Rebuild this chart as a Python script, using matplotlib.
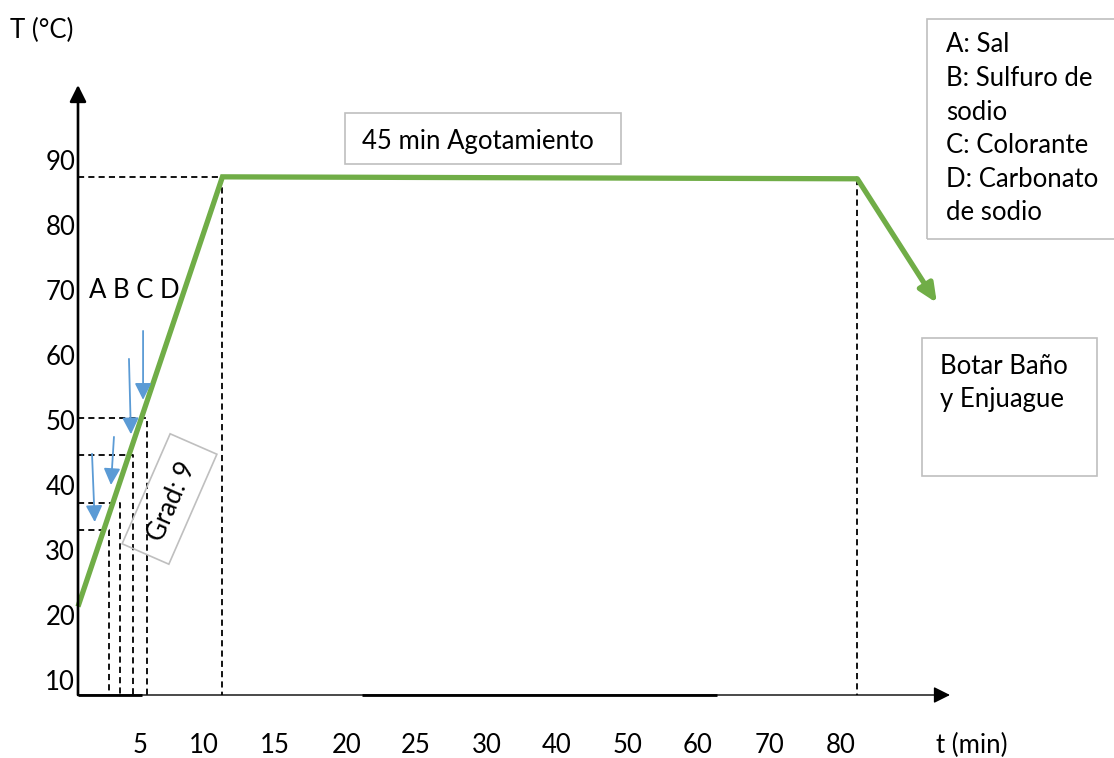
import numpy as np
import matplotlib
matplotlib.use("Agg")
import matplotlib.pyplot as plt
from matplotlib.patches import Rectangle
from matplotlib.transforms import IdentityTransform

# ---------------- data ----------------
# time ticks (min) shown under the time axis
time_ticks = [5, 10, 15, 20, 25, 30, 40, 50, 60, 70, 80]
time_tick_labels = ["5", "10", "15", "20", "25", "30", "40", "50", "60", "70", "80"]
# temperature ticks (°C)
temp_ticks = [10, 20, 30, 40, 50, 60, 70, 80, 90]
temp_tick_labels = ["10", "20", "30", "40", "50", "60", "70", "80", "90"]

# dyeing profile: heating ramp, 45 min exhaustion hold, then drain
profile_time = [0, 11.3, 82.3]
profile_temp = [21.3, 87.4, 87.1]
drain_time = 93.5
drain_temp = 68.0

# addition points A, B, C, D (time, temperature)
add_names = ["A", "B", "C", "D"]
add_time = [2.5, 3.4, 4.4, 5.55]
add_temp = [33.1, 37.2, 44.6, 50.3]

# dosing arrows (start -> end)
dose_time_start = [1.13, 2.90, 4.11, 5.24]
dose_temp_start = [44.8, 47.4, 59.4, 63.7]
dose_time_end = [1.35, 2.66, 4.27, 5.24]
dose_temp_end = [34.3, 40.0, 47.8, 53.1]

legend_lines = ["A: Sal", "B: Sulfuro de", "sodio", "C: Colorante",
                "D: Carbonato", "de sodio"]
stage_label = "45 min Agotamiento"
drain_lines = ["Botar Baño", "y Enjuague"]
gradient_label = "Grad: 9"

# ---------------- layout ----------------
W, H = 1114, 758
GREEN = "#70AD47"
BLUE = "#5B9BD5"
BOX = "#BFBFBF"

plt.rcParams["font.family"] = ["Lato", "DejaVu Sans"]
plt.rcParams["font.size"] = 18.5

# the time axis is drawn with uneven spacing between its labelled stops
stop_min = np.array([0, 5, 10, 15, 20, 25, 30, 40, 50, 60, 70, 80], float)
stop_pos = np.array([0, 62, 126, 197, 269, 338, 409, 479, 550, 620, 692, 763], float)
slope_lo = (stop_pos[1] - stop_pos[0]) / (stop_min[1] - stop_min[0])
slope_hi = (stop_pos[-1] - stop_pos[-2]) / (stop_min[-1] - stop_min[-2])


def fwd(m):
    m = np.asarray(m, float)
    out = np.interp(m, stop_min, stop_pos)
    out = np.where(m < stop_min[0], stop_pos[0] + (m - stop_min[0]) * slope_lo, out)
    out = np.where(m > stop_min[-1], stop_pos[-1] + (m - stop_min[-1]) * slope_hi, out)
    return out


def inv(p):
    p = np.asarray(p, float)
    out = np.interp(p, stop_pos, stop_min)
    out = np.where(p < stop_pos[0], stop_min[0] + (p - stop_pos[0]) / slope_lo, out)
    out = np.where(p > stop_pos[-1], stop_min[-1] + (p - stop_pos[-1]) / slope_hi, out)
    return out


fig = plt.figure(figsize=(W / 100, H / 100), dpi=100)
ax = fig.add_axes([78 / W, 63 / H, 1036 / W, 695 / H])
ax.set_xscale("function", functions=(fwd, inv))
ax.set_xlim(0, float(inv(1036)))
y_base = 7.7
ax.set_ylim(y_base, 114.6)
for s in ax.spines.values():
    s.set_visible(False)

ax.set_xticks(time_ticks)
ax.set_xticklabels(time_tick_labels)
ax.set_yticks(temp_ticks)
ax.set_yticklabels(temp_tick_labels)
ax.tick_params(axis="x", length=0, pad=27.5)
ax.tick_params(axis="y", length=0, pad=2)
ax.minorticks_off()

ax.set_xlabel("t (min)")
ax.xaxis.set_label_coords((972 - 78) / 1036, -38 / 695)
ax.set_ylabel("T (°C)", rotation=0, ha="center", va="center")
ax.yaxis.set_label_coords((42 - 78) / 1036, (695 - 30) / 695)

# axis arrows
ax.annotate("", xy=(0, (695 - 85) / 695), xytext=(0, 0), xycoords="axes fraction",
            arrowprops=dict(arrowstyle="-|>,head_length=1.0,head_width=0.5",
                            mutation_scale=10, lw=1.9, color="black",
                            shrinkA=0, shrinkB=0), annotation_clip=False)
ax.annotate("", xy=((950 - 78) / 1036, 0), xytext=(0, 0), xycoords="axes fraction",
            arrowprops=dict(arrowstyle="-|>,head_length=1.0,head_width=0.5",
                            mutation_scale=10, lw=1.0, color="black",
                            shrinkA=0, shrinkB=0), annotation_clip=False)
# heavier stretches of the time axis
ax.plot([0, 5.16], [y_base, y_base], color="black", lw=2.0, clip_on=False,
        solid_capstyle="butt")
ax.plot([21.1, 62.6], [y_base, y_base], color="black", lw=2.0, clip_on=False,
        solid_capstyle="butt")

dash_kw = dict(color="black", lw=1.3, dashes=(3.4, 2.3), clip_on=False)
# guides to the hold start and end
ax.plot([0, profile_time[1], profile_time[1]],
        [profile_temp[1], profile_temp[1], y_base], **dash_kw)
ax.plot([profile_time[2], profile_time[2]], [profile_temp[2], y_base], **dash_kw)
# guides to each addition point
for t, T in zip(add_time, add_temp):
    ax.plot([0, t, t], [T, T, y_base], **dash_kw)

# temperature profile
ax.plot(profile_time, profile_temp, color=GREEN, lw=3.8, clip_on=False,
        solid_joinstyle="miter", solid_capstyle="butt")
ax.annotate("", xy=(drain_time, drain_temp), xytext=(profile_time[-1], profile_temp[-1]),
            arrowprops=dict(arrowstyle="-|>,head_length=1.0,head_width=0.45",
                            mutation_scale=11, lw=3.8, color=GREEN,
                            shrinkA=0, shrinkB=0), annotation_clip=False)

# dosing arrows
for t0, T0, t1, T1 in zip(dose_time_start, dose_temp_start, dose_time_end, dose_temp_end):
    ax.annotate("", xy=(t1, T1), xytext=(t0, T0),
                arrowprops=dict(arrowstyle="-|>,head_length=1.0,head_width=0.5",
                                mutation_scale=10, lw=1.3, color=BLUE,
                                shrinkA=0, shrinkB=0), annotation_clip=False)


def fx(px):
    return px / W


def fy(py):
    return 1 - py / H


def box(x0, y0, x1, y1):
    fig.add_artist(Rectangle((fx(x0), fy(y1)), (x1 - x0) / W, (y1 - y0) / H,
                             transform=fig.transFigure, fill=False, ec=BOX, lw=1.2))


fig.text(fx(134), fy(291), " ".join(add_names), ha="center", va="center")

box(345, 113, 621, 164)
fig.text(fx(362), fy(141), stage_label, ha="left", va="center")

box(927, 19, 1125, 239)
for i, line in enumerate(legend_lines):
    fig.text(fx(946), fy(45 + 33.6 * i), line, ha="left", va="center")

box(922, 338, 1097, 476)
for i, line in enumerate(drain_lines):
    fig.text(fx(940), fy(367 + 33 * i), line, ha="left", va="center")

# slanted gradient tag
cx, cy = 169.5, H - 499
fig.add_artist(Rectangle((cx - 60, cy - 25.5), 120, 51, angle=66.4,
                         rotation_point="center", transform=IdentityTransform(),
                         fill=False, ec=BOX, lw=1.2))
fig.text(fx(172), fy(502), gradient_label, rotation=66.4, ha="center", va="center",
         rotation_mode="anchor")

fig.savefig("out.png", dpi=100)
